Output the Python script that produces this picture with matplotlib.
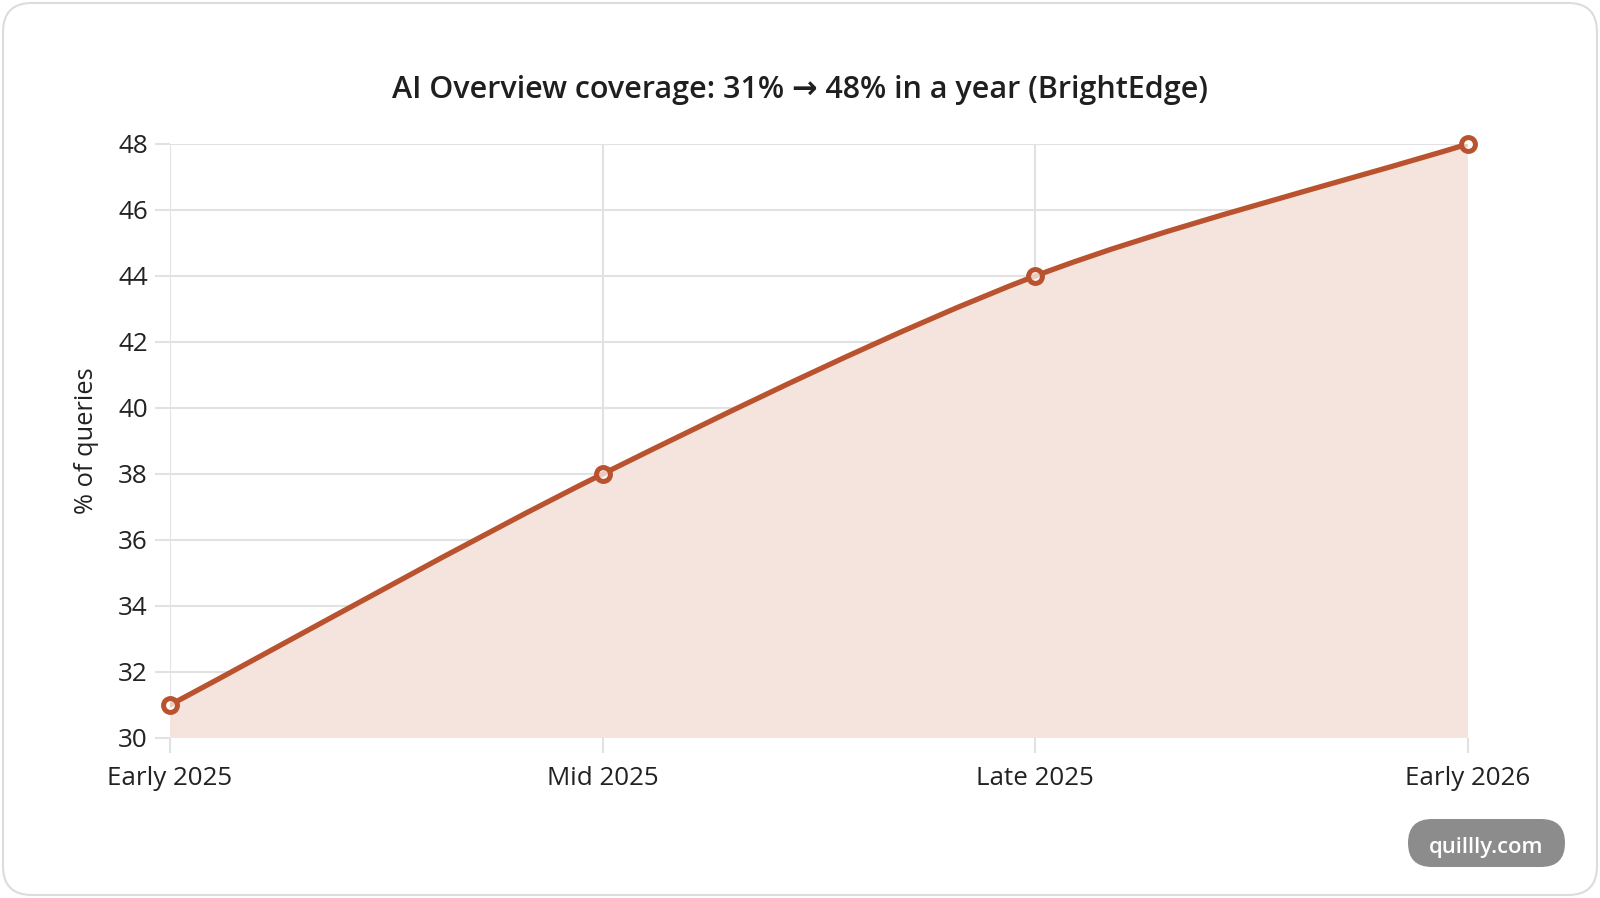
import matplotlib
matplotlib.use("Agg")
import matplotlib.pyplot as plt
import numpy as np
from matplotlib.path import Path
from matplotlib.patches import PathPatch, FancyBboxPatch

categories = ["Early 2025", "Mid 2025", "Late 2025", "Early 2026"]
values = [31, 38, 44, 48]
y_ticks = [30, 32, 34, 36, 38, 40, 42, 44, 46, 48]
title = "AI Overview coverage: 31% \u2192 48% in a year (BrightEdge)"
y_label = "% of queries"
watermark = "quillly.com"

plt.rcParams['font.family'] = ['Open Sans', 'DejaVu Sans']

W, H = 1600, 898
fig = plt.figure(figsize=(W / 100, H / 100), dpi=100)

# card background
card = FancyBboxPatch((3 / W, 3 / H), (W - 6) / W, (H - 6) / H,
                      boxstyle="round,pad=0,rounding_size=0.018",
                      transform=fig.transFigure, facecolor="white",
                      edgecolor="#dcdcdc", linewidth=1.5, zorder=-5,
                      mutation_aspect=W / H)
fig.patches.append(card)

left, right, top, bottom = 170, 1468, 144, 738
ax = fig.add_axes([left / W, 1 - bottom / H, (right - left) / W, (bottom - top) / H])
ax.set_facecolor("none")

line_color = "#b9532f"
fill_color = "#f5e4dd"
grid_color = "#e2e2e2"

x = np.arange(len(categories))
ax.set_xlim(0, len(categories) - 1)
ax.set_ylim(30, 48)

# Chart.js-like spline (tension) computed in pixel space
fig.canvas.draw()
pts = ax.transData.transform(np.column_stack([x, values]))
tension = 0.3
n = len(pts)
cp_prev = np.zeros_like(pts)
cp_next = np.zeros_like(pts)
for i in range(n):
    p = pts[i]
    pr = pts[i - 1] if i > 0 else p
    nx = pts[i + 1] if i < n - 1 else p
    d01 = np.hypot(*(p - pr))
    d12 = np.hypot(*(nx - p))
    tot = d01 + d12
    s01 = d01 / tot if tot else 0
    s12 = d12 / tot if tot else 0
    cp_prev[i] = p - tension * s01 * (nx - pr)
    cp_next[i] = p + tension * s12 * (nx - pr)
ymin_px, ymax_px = ax.transData.transform([[0, 30], [0, 48]])[:, 1]
cp_prev[:, 1] = np.clip(cp_prev[:, 1], ymin_px, ymax_px)
cp_next[:, 1] = np.clip(cp_next[:, 1], ymin_px, ymax_px)

inv = ax.transData.inverted()
verts = [pts[0]]
codes = [Path.MOVETO]
for i in range(n - 1):
    verts += [cp_next[i], cp_prev[i + 1], pts[i + 1]]
    codes += [Path.CURVE4] * 3
verts_d = inv.transform(np.array(verts))

line_path = Path(verts_d, codes)
fill_verts = np.vstack([verts_d, [[x[-1], 30], [x[0], 30], verts_d[0]]])
fill_codes = codes + [Path.LINETO, Path.LINETO, Path.CLOSEPOLY]
ax.add_patch(PathPatch(Path(fill_verts, fill_codes), facecolor=fill_color,
                       edgecolor="none", zorder=1))
ax.add_patch(PathPatch(line_path, facecolor="none", edgecolor=line_color,
                       linewidth=3.8, capstyle="round", joinstyle="round", zorder=3))
ax.plot(x, values, linestyle="none", marker="o", markersize=10,
        markeredgewidth=3.6, markeredgecolor=line_color,
        markerfacecolor=(1, 1, 1, 0.7), zorder=4, clip_on=False)

ax.set_xticks(x)
ax.set_xticklabels(categories)
ax.set_yticks(y_ticks)
ax.grid(True, color=grid_color, linewidth=1.5, zorder=0)
ax.set_axisbelow(True)
for s in ax.spines.values():
    s.set_visible(False)
ax.tick_params(axis="both", colors=grid_color, length=11, width=1.5,
               labelcolor="#222222", labelsize=18.7)
ax.tick_params(axis="y", pad=5)
ax.tick_params(axis="x", pad=9)
ax.set_ylabel(y_label, fontsize=18.3, color="#222222", labelpad=14)

fig.text(0.5, 1 - 90 / H, title, ha="center", va="center",
         fontsize=22, fontweight="semibold", color="#1f1f1f")

# watermark pill
pill = FancyBboxPatch((1408 / W, 1 - 867 / H), (1565 - 1408) / W, (867 - 819) / H,
                      boxstyle="round,pad=0,rounding_size=0.015",
                      transform=fig.transFigure, facecolor="#8c8c8c",
                      edgecolor="none", mutation_aspect=W / H * 1.0)
fig.patches.append(pill)
fig.text((1408 + 1565) / 2 / W, 1 - 847 / H, watermark, ha="center", va="center",
         fontsize=15.8, fontweight="semibold", color="white")

fig.savefig("out.png", dpi=100)
